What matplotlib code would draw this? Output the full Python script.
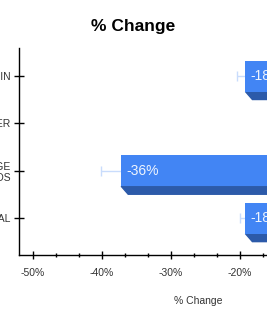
import numpy as np
import matplotlib
matplotlib.use('Agg')
import matplotlib.pyplot as plt
from matplotlib.patches import Polygon
from matplotlib.ticker import MultipleLocator
from matplotlib.transforms import offset_copy, IdentityTransform

# data (labels on the left are cut off by the frame)
categories = ['MARGIN', 'OTHER', 'AVERAGE\nPERIODS', 'TOTAL']
values = [-18, np.nan, -36, -18]
errors = [1.2, np.nan, 2.9, 0.75]
bar_labels = ['-18%', '', '-36%', '-18%']
xticks = [-50, -40, -30, -20, -10, 0]

face = '#4285f4'
side = '#2c5aa9'
err_col = '#c9dcfc'

plt.rcParams['font.family'] = ['Liberation Sans', 'DejaVu Sans']

fig = plt.figure(figsize=(2.67, 3.22), dpi=100)
ax = fig.add_axes([18.8 / 267, 67.3 / 322, 52 * 6.9 / 267, 207 / 322])
ax.set_xlim(-52, 0)
ax.set_ylim(3.77, -0.6)

ypos = np.arange(len(categories))
h = 0.65
dx, dy = 7, 8          # depth of the 3d extrusion, pixels
shift = -8             # front face sits left of the value

front = offset_copy(ax.transData, fig=fig, x=shift, y=0, units='dots')

ax.errorbar(values, ypos, xerr=errors, fmt='none', ecolor=err_col,
            elinewidth=1, capsize=3.6, capthick=1, transform=front, zorder=1)
ax.barh(ypos, [-v if not np.isnan(v) else 0 for v in values], left=values,
        height=h, color=face, transform=front, zorder=3)

for y, v in zip(ypos, values):
    if np.isnan(v):
        continue
    x0, yb = ax.transData.transform((v, y + h / 2))
    x1, _ = ax.transData.transform((0, y + h / 2))
    x0 += shift
    x1 += shift
    poly = Polygon([(x0, yb), (x1, yb), (x1 + dx, yb - dy), (x0 + dx, yb - dy)],
                   closed=True, color=side, transform=IdentityTransform(), zorder=2)
    ax.add_patch(poly)

lab_tr = offset_copy(ax.transData, fig=fig, x=shift + 5, y=0, units='dots')
for y, v, t in zip(ypos, values, bar_labels):
    if t:
        ax.text(v, y, t, transform=lab_tr, ha='left', va='center',
                color='#eef4fe', fontsize=10, zorder=4)

ax.set_xticks(xticks)
ax.set_xticklabels([f'{t}%' for t in xticks])
ax.xaxis.set_minor_locator(MultipleLocator(10 / 3))
ax.set_yticks(ypos)
ax.set_yticklabels(categories)
ax.set_xlim(-52, 0)
ax.set_ylim(3.77, -0.6)

ax.tick_params(axis='x', which='major', direction='inout', length=6, width=1,
               labelsize=7.5, labelcolor='#333333', pad=6.5)
ax.tick_params(axis='x', which='minor', direction='inout', length=3.2, width=1)
ax.tick_params(axis='y', direction='inout', length=7, width=1,
               labelsize=7.5, labelcolor='#333333', pad=2)
for s in ['top', 'right']:
    ax.spines[s].set_visible(False)
for s in ['left', 'bottom']:
    ax.spines[s].set_linewidth(1)

ax.set_xlabel('% Change', fontsize=7.5, color='#333333', labelpad=13)
fig.text(133 / 267, 1 - 27 / 322, '% Change', ha='center', va='center',
         fontsize=12.5, fontweight='bold')

fig.savefig('out.png', dpi=100)
